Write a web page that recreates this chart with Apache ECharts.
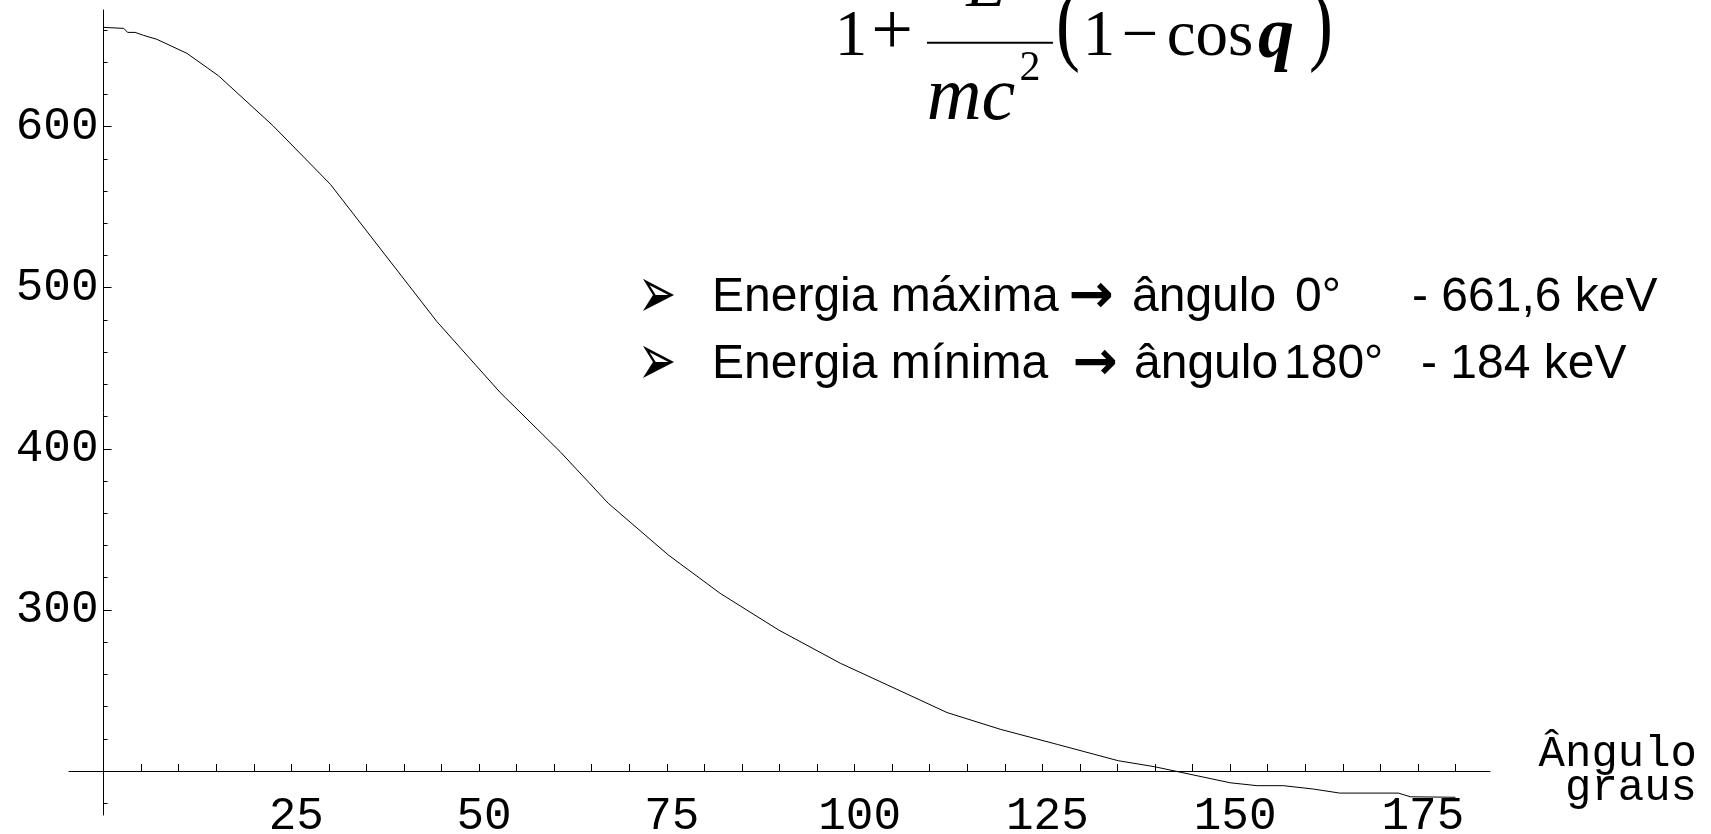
<!DOCTYPE html>
<html>
<head>
<meta charset="utf-8">
<title>Energia vs ângulo</title>
<script src="https://cdn.jsdelivr.net/npm/echarts@6/dist/echarts.min.js"></script>
<style>
html, body { margin: 0; padding: 0; background: #fff; }
#main { width: 1711px; height: 834px; }
</style>
</head>
<body>
<div id="main"></div>
<script>
// ângulo de espalhamento (graus) e energia do fotão espalhado (keV)
var angulos = [0, 2.7, 3.2, 4.2, 5.3, 7.1, 11.1, 15.3, 22.6, 30.2, 44.4, 52.8, 60.8, 67.2, 75.2, 82.1,
    89.9, 98.1, 108.7, 112.3, 119.4, 127, 135.1, 139.9, 150, 153.6, 157.1, 161.1, 164.6, 172.4, 174, 180];
var energias = [661.6, 661.0, 658.5, 658.5, 656.7, 654.2, 645.5, 631.6, 600.4, 564.2, 478.9, 435.0, 398.2, 366.2, 334.1, 310.3,
    287.5, 266.9, 244.1, 236.3, 225.9, 216.5, 206.4, 202.7, 192.7, 190.9, 190.9, 188.8, 186.3, 186.3, 184.0, 183.7];

// marcas dos eixos
var xTicks = [5, 10, 15, 20, 25, 30, 35, 40, 45, 50, 55, 60, 65, 70, 75, 80, 85, 90,
    95, 100, 105, 110, 115, 120, 125, 130, 135, 140, 145, 150, 155, 160, 165, 170, 175, 180];
var xLabels = [25, 50, 75, 100, 125, 150, 175];
var yMajor = [200, 300, 400, 500, 600];
var yMinor = [180, 220, 240, 260, 280, 320, 340, 360, 380, 420, 440, 460, 480,
    520, 540, 560, 580, 620, 640, 660];
var yLabels = [300, 400, 500, 600];

var xMin = -4.6, xMax = 184.6;
var yMin = 172.7, yMax = 672.4;
var yCross = 200; // o eixo horizontal passa em 200

var W = 1711, H = 834;
var gridLeft = 69, gridRight = 221, gridTop = 10, gridBottom = 19;
var gridW = W - gridLeft - gridRight;
var gridH = H - gridTop - gridBottom;
// deslocamentos para os eixos se cruzarem em (0, 200)
var yAxisOffset = -(0 - xMin) / (xMax - xMin) * gridW;
var xAxisOffset = -(yCross - yMin) / (yMax - yMin) * gridH;

var pontos = [];
for (var i = 0; i < angulos.length; i++) {
    pontos.push([angulos[i], energias[i]]);
}

var SERIF = '"Liberation Serif", "Times New Roman", serif';
var SANS = '"Liberation Sans", Arial, sans-serif';
var MONO = '"Liberation Mono", "Courier New", monospace';
var DEJAVU = '"DejaVu Sans", sans-serif';

// texto centrado verticalmente em y (canvas desenha com baseline "middle")
function mid(text, x, y, size, family, align, style, scaleY) {
    return {
        type: 'text',
        x: x,
        y: y,
        scaleY: scaleY || 1,
        silent: true,
        style: {
            text: text,
            font: (style || '') + ' ' + size + 'px ' + family,
            fill: '#000',
            align: align || 'left',
            textAlign: align || 'left',
            verticalAlign: 'middle',
            textVerticalAlign: 'middle'
        }
    };
}
// texto com linha de base dada
function txt(text, x, base, size, family, k, align, style) {
    return mid(text, x, base - k * size, size, family, align, style);
}

var kSerif = 0.3375, kSans = 0.3465;

var graficos = [
    // fórmula (cortada no topo)
    txt('1', 851, 60, 65, SERIF, kSerif, 'center'),
    txt('+', 892, 60, 74, SERIF, kSerif, 'center'),
    txt('E', 986, 11, 65, SERIF, kSerif, 'center', 'italic'),
    {type: 'line', silent: true, shape: {x1: 927, y1: 42.7, x2: 1053, y2: 42.7}, style: {stroke: '#000', lineWidth: 2}},
    txt('mc', 971, 125, 76, SERIF, kSerif, 'center', 'italic'),
    txt('2', 1030, 83, 42, SERIF, kSerif, 'center'),
    mid('(', 1068, 28.8, 72, SERIF, 'center', '', 1.3),
    txt('1', 1099, 60, 65, SERIF, kSerif, 'center'),
    txt('\u2212', 1140, 60, 65, SERIF, kSerif, 'center'),
    txt('cos', 1210, 60, 65, SERIF, kSerif, 'center'),
    txt('q', 1276, 63, 72, SERIF, kSerif, 'center', 'italic bold'),
    mid(')', 1321, 28.8, 72, SERIF, 'center', '', 1.3),

    // notas
    mid('\u27A2', 657, 299, 46, DEJAVU, 'center', '', 1.6),
    txt('Energia máxima', 712, 314, 48, SANS, kSans),
    mid('\u2192', 1091, 298, 54, DEJAVU, 'center', 'bold'),
    txt('ângulo', 1132, 314, 48, SANS, kSans),
    txt('0°', 1295, 314, 48, SANS, kSans),
    txt('- 661,6 keV', 1412, 314, 48, SANS, kSans),

    mid('\u27A2', 657, 366, 46, DEJAVU, 'center', '', 1.6),
    txt('Energia mínima', 712, 381, 48, SANS, kSans),
    mid('\u2192', 1095, 365, 54, DEJAVU, 'center', 'bold'),
    txt('ângulo', 1134, 381, 48, SANS, kSans),
    txt('180°', 1284, 381, 48, SANS, kSans),
    txt('- 184 keV', 1421, 381, 48, SANS, kSans)
];

var myChart = echarts.init(document.getElementById('main'));
var option = {
    animation: false,
    backgroundColor: '#fff',
    grid: {
        left: gridLeft, right: gridRight, top: gridTop, bottom: gridBottom,
        containLabel: false, outerBoundsMode: 'none'
    },
    xAxis: {
        type: 'value',
        min: xMin,
        max: xMax,
        position: 'bottom',
        offset: xAxisOffset,
        axisLine: {onZero: false, lineStyle: {color: '#000', width: 1}},
        axisTick: {inside: true, length: 7, customValues: xTicks, lineStyle: {color: '#000', width: 1}},
        axisLabel: {
            customValues: xLabels,
            fontFamily: MONO, fontSize: 46, lineHeight: 46, color: '#000',
            margin: 23, padding: [0, 0, 0, 10]
        },
        splitLine: {show: false},
        name: 'Ângulo\ngraus',
        nameLocation: 'end',
        nameGap: 207,
        nameTextStyle: {
            fontFamily: MONO, fontSize: 44, lineHeight: 34, color: '#000',
            align: 'right', verticalAlign: 'middle', padding: [2, 0, 0, 0]
        }
    },
    yAxis: [{
        type: 'value',
        min: yMin,
        max: yMax,
        position: 'left',
        offset: yAxisOffset,
        axisLine: {onZero: false, lineStyle: {color: '#000', width: 1}},
        axisTick: {inside: true, length: 8, customValues: yMajor, lineStyle: {color: '#000', width: 1}},
        axisLabel: {
            customValues: yLabels,
            fontFamily: MONO, fontSize: 46, lineHeight: 46, color: '#000',
            margin: 5, padding: [20, 0, 0, 0]
        },
        splitLine: {show: false}
    }, {
        // marcas menores do eixo vertical
        type: 'value',
        min: yMin,
        max: yMax,
        position: 'left',
        offset: yAxisOffset,
        axisLine: {show: false, onZero: false},
        axisTick: {inside: true, length: 4, customValues: yMinor, lineStyle: {color: '#000', width: 1}},
        axisLabel: {show: false},
        splitLine: {show: false}
    }],
    series: [{
        type: 'line',
        data: pontos,
        xAxisIndex: 0,
        yAxisIndex: 0,
        showSymbol: false,
        symbol: 'none',
        lineStyle: {color: '#000', width: 1}
    }],
    graphic: graficos
};
myChart.setOption(option);
</script>
</body>
</html>
